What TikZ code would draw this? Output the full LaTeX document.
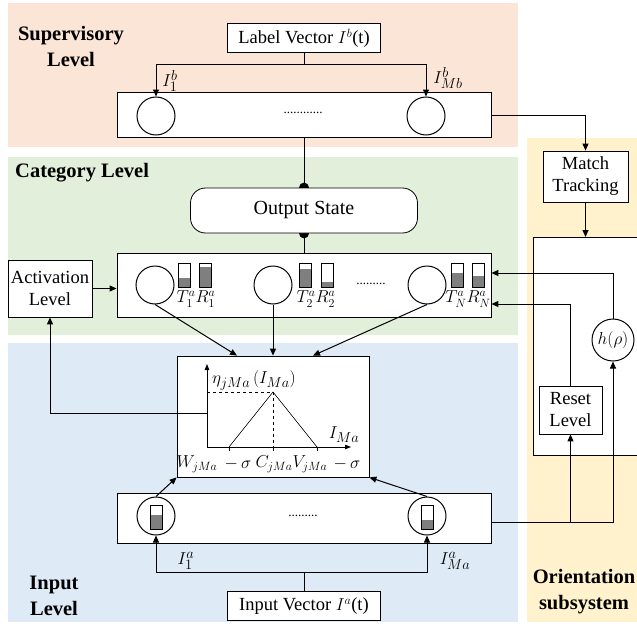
\documentclass[tikz,border=0pt]{standalone}
\usepackage{fontspec}
\setmainfont{Liberation Serif}
\usetikzlibrary{arrows.meta}
\pgfdeclarelayer{bg}
\pgfdeclarelayer{mid}
\pgfsetlayers{bg,mid,main}
\definecolor{supc}{HTML}{FBE5D6}
\definecolor{catc}{HTML}{E2EFDA}
\definecolor{inpc}{HTML}{DEEBF7}
\definecolor{oric}{HTML}{FFF2CC}
\definecolor{barc}{HTML}{7F7F7F}
\newcommand{\levelbar}[3]{%
  \fill[barc] (#1,{#2+24*(1-#3)}) rectangle ++(12,{24*#3});
  \draw[line width=0.8pt] (#1,#2) rectangle ++(12,24);}
\begin{document}
\begin{tikzpicture}[x=1pt,y=-1pt,
  box/.style={draw, fill=white, line width=0.8pt, inner sep=0pt},
  txt/.style={font=\fontsize{18.5}{22}\selectfont},
  mlab/.style={font=\fontsize{19}{22}\selectfont, inner sep=0pt},
  tlab/.style={font=\fontsize{18}{21}\selectfont, inner sep=0pt},
  clab/.style={font=\fontsize{16.5}{20}\selectfont, inner sep=0pt},
  ttl/.style={font=\fontsize{20.5}{26}\selectfont\bfseries, align=center, inner sep=0pt},
  arr/.style={-{Triangle[length=7pt,width=6pt]}, line width=1pt},
  axarr/.style={-{Triangle[length=6pt,width=4.5pt]}, line width=0.9pt},
  ln/.style={line width=1pt},
  neuron/.style={draw, circle, fill=white, minimum size=38pt, inner sep=0pt, line width=1pt},
  dotsy/.style={font=\fontsize{13}{13}\selectfont, inner sep=0pt}
]
\useasboundingbox (0,0) rectangle (637,626);
% background regions
\begin{pgfonlayer}{bg}
  \fill[supc] (8,3) rectangle (518,147);
  \fill[catc] (8,157) rectangle (518,335);
  \fill[inpc] (8,343) rectangle (518,622);
  \fill[oric] (527,138) rectangle (637,622);
\end{pgfonlayer}
% titles
\node[ttl] (tsup) at (71,46) {Supervisory\\Level};
\node[ttl, anchor=west] (tcat) at (15,173) {Category Level};
\node[ttl] (tinp) at (54,596) {Input\\Level};
\node[ttl] (tori) at (584,592) {Orientation\\subsystem};
% orientation big box (open to the right)
\filldraw[fill=white, line width=0.8pt] (641,237) -- (533,237) -- (533,455) -- (641,455);
% supervisory level
\node[box,txt,minimum width=153pt,minimum height=29pt] (lv) at (304,38) {Label Vector $I^b$(t)};
\node[box,minimum width=374pt,minimum height=45pt] (sup) at (304,115) {};
\node[neuron] (sb1) at (156,116) {};
\node[neuron] (sbM) at (426,116) {};
\node[dotsy] (sdots) at (303,113) {............};
\node[mlab] (lb1) at (170,81) {$I_1^b$};
\node[mlab] (lbM) at (448,78) {$I_{Mb}^b$};
% category level
\node[box,font=\fontsize{20}{24}\selectfont,minimum width=227pt,minimum height=45pt,rounded corners=15pt] (os) at (304,210.5) {Output State};
\node[box,minimum width=374pt,minimum height=64pt] (cat) at (304,285) {};
\node[neuron] (c1) at (155,285) {};
\node[neuron] (c2) at (273,285) {};
\node[neuron] (cN) at (427,285) {};
\node[dotsy] (cdots) at (371,284) {.........};
\levelbar{178}{263}{0.38}
\levelbar{199}{263}{0.83}
\levelbar{299}{263}{0.75}
\levelbar{321}{263}{0.22}
\levelbar{451}{263}{0.58}
\levelbar{472}{263}{0.45}
\node[tlab] (l1) at (196,299) {$T_1^a R_1^a$};
\node[tlab] (l2) at (316,299) {$T_2^a R_2^a$};
\node[tlab] (lN) at (468,299) {$T_N^a R_N^a$};
\node[box,txt,align=center,minimum width=84pt,minimum height=57pt] (act) at (50,288.5) {Activation\\Level};
% chart
\node[box,minimum width=192pt,minimum height=121pt] (chart) at (273,416.5) {};
\coordinate (O) at (207,447);
\coordinate (yax) at (207,413);
\draw[axarr] (O) -- (207,364);
\draw[axarr] (O) -- (351,447);
\draw[line width=0.6pt] (229,447) -- (273,392) -- (317,447);
\draw[line width=0.8pt] (229,447) -- (229,451) (273,447) -- (273,451) (317,447) -- (317,451);
\draw[dashed, line width=0.8pt] (207,392) -- (273,392) -- (273,447);
\node[mlab] (eta) at (254,380) {$\eta_{jMa}\,(I_{Ma})$};
\node[mlab] (ima) at (344,435) {$I_{Ma}$};
\node[clab] (wl) at (197,464) {$W_{jMa}$};
\node[clab] (s1) at (238,464) {$-\,\sigma$};
\node[clab] (cl) at (274,464) {$C_{jMa}$};
\node[clab] (vl) at (310,464) {$V_{jMa}$};
\node[clab] (s2) at (347,464) {$-\,\sigma$};
% input level
\node[box,minimum width=374pt,minimum height=50pt] (inp) at (304,518) {};
\node[neuron] (i1) at (156,516) {};
\node[neuron] (iM) at (427,516) {};
\levelbar{150}{505}{0.6}
\levelbar{421}{505}{0.38}
\node[dotsy] (idots) at (303,516) {.........};
\node[box,txt,minimum width=153pt,minimum height=29pt] (iv) at (304,606) {Input Vector $I^a$(t)};
\node[mlab] (la1) at (186,561) {$I_1^a$};
\node[mlab] (laM) at (455,561) {$I_{Ma}^a$};
% orientation subsystem
\node[box,txt,align=center,minimum width=85pt,minimum height=51pt] (mt) at (585.5,176.5) {Match\\Tracking};
\node[draw,circle,fill=white,line width=1pt,minimum size=42pt,inner sep=0pt,font=\fontsize{19}{22}\selectfont] (h) at (613,340) {$h(\rho)$};
\node[box,txt,align=center,minimum width=63pt,minimum height=48pt] (rl) at (570.5,410) {Reset\\Level};
% connectors
\coordinate (sj) at (304,65);
\draw[ln] (lv.south) -- (sj);
\draw[arr] (sj) -| (sb1.north);
\draw[arr] (sj) -| (sbM.north);
\draw[ln] (sup.south) -- (os.north);
\draw[ln] (os.south) -- (cat.north);
\begin{pgfonlayer}{mid}
  \fill (os.north) circle (5pt);
  \fill (os.south) circle (5pt);
\end{pgfonlayer}
\draw[arr] (sup.east) -| (mt.north);
\draw[arr] (mt.south) -- (mt.south |- 0,237);
\draw[arr] (h.north) |- ([yshift=12pt]cat.east);
\draw[arr] (rl.north) |- ([yshift=-19pt]cat.east);
\draw[arr] (act.east) -- (act.east -| cat.west);
\draw[arr] (yax) -| (act.south);
\draw[arr] (c1.south) -- ([xshift=-36pt]chart.north);
\draw[arr] (c2.south) -- (chart.north);
\draw[arr] (cN.south) -- ([xshift=40pt]chart.north);
\draw[arr] (i1.north) -- (chart.south west);
\draw[arr] (iM.north) -- (chart.south east);
\coordinate (ij) at (304,572);
\draw[ln] (iv.north) -- (ij);
\draw[arr] (ij) -| (i1.south);
\draw[arr] (ij) -| (iM.south);
\coordinate (oj) at ([yshift=-4pt]inp.east);
\draw[arr] (oj) -| (h.south);
\draw[arr] (oj -| rl.south) -- (rl.south);
\end{tikzpicture}
\end{document}
